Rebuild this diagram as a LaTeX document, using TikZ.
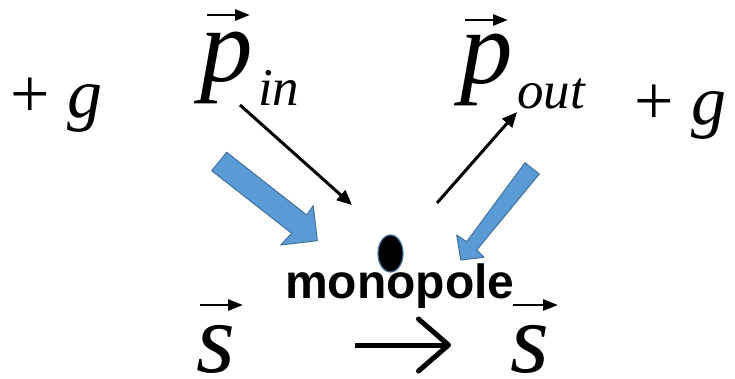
\documentclass[tikz,border=0pt]{standalone}
\usepackage{fontspec}
\setmainfont{Liberation Serif}
\newfontfamily\labelfont{Liberation Sans}
\usetikzlibrary{arrows.meta, positioning, shapes.geometric}
\definecolor{arrowblue}{HTML}{5B9BD5}
\definecolor{edgeblue}{HTML}{41719C}

\begin{document}
\begin{tikzpicture}[
  x=1pt, y=-1pt,
  sym/.style={inner sep=0pt, anchor=base west},
  big/.style={sym, font=\fontsize{105}{105}\selectfont\itshape},
  spin/.style={sym, font=\fontsize{100}{100}\selectfont\itshape},
  sub/.style={sym, font=\fontsize{53}{53}\selectfont\itshape},
  charge/.style={sym, font=\fontsize{70}{70}\selectfont},
  vecarr/.style={-{Triangle[length=15pt,width=11pt]}, line width=2.7pt},
  arr/.style={-{Triangle[length=15pt,width=13pt]}, line width=3pt},
  bigto/.style={-{Straight Barb[length=30pt,width=52pt,round]}, line width=5pt},
  fat/.style={fill=arrowblue, draw=edgeblue, line width=1pt, line join=round}
]
\useasboundingbox (0,0) rectangle (735,378);

% charges and momenta
\node[charge] (gleft) at (10,117) {+ \textit{g}};
\node[big] (pin) at (200,81) {p};
\node[sub] (pinsub) at (258,105) {in};
\node[big] (pout) at (460,83) {p};
\node[sub] (poutsub) at (517,108) {out};
\node[charge] (gright) at (634,124) {+ \textit{g}};

\draw[vecarr] ([shift={(7,-66)}]pin.base west) -- ++(43,0);
\draw[vecarr] ([shift={(5,-63)}]pout.base west) -- ++(43,0);

% the monopole
\node[ellipse, fill=black, draw=edgeblue, line width=1.2pt, minimum width=25pt,
  minimum height=37pt, inner sep=0pt] (pole) at (390.5,253.5) {};
\node[sym, font=\labelfont\bfseries\fontsize{48}{48}\selectfont] (label) at (285,298) {monopole};

% momentum in and out
\coordinate (intail) at (240,105);
\coordinate (inhead) at (352,205);
\coordinate (outtail) at (437,203);
\coordinate (outhead) at (517,112);
\draw[arr] (intail) -- (inhead);
\draw[arr] (outtail) -- (outhead);

% spin arrows
\draw[fat] (211.7,170.7) -- (226.7,152.3) -- (306.7,215) -- (313.3,205.7)
  -- (317.3,240.7) -- (280.7,245) -- (291.7,233.3) -- cycle;
\draw[fat] (525,162.7) -- (539.3,174) -- (476.7,250) -- (484,257.3)
  -- (460.7,260) -- (456.7,235) -- (466.7,241.7) -- cycle;

% s -> s
\node[spin] (sin) at (196,372) {s};
\node[spin] (sout) at (510,372) {s};
\draw[vecarr] ([shift={(4,-67)}]sin.base west) -- ++(43,0);
\draw[vecarr] ([shift={(3,-67)}]sout.base west) -- ++(45,0);
\draw[bigto] ([xshift=159pt,yshift=27pt]sin.base west) -- ([xshift=-59pt,yshift=27pt]sout.base west);
\end{tikzpicture}
\end{document}
